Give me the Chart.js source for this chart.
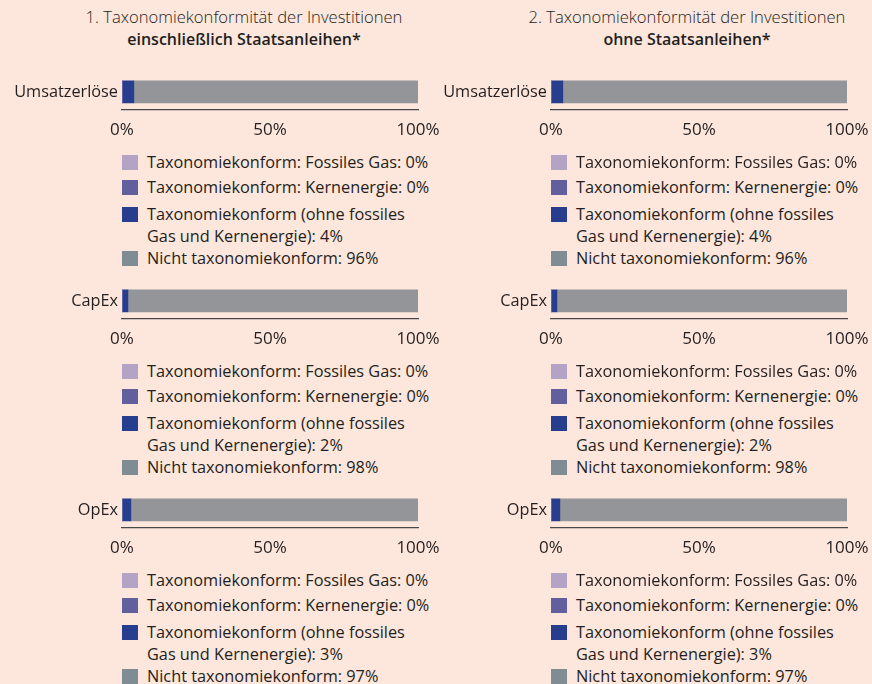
<!DOCTYPE html>
<html lang="de">
<head>
  <meta charset="UTF-8">
  <title>Taxonomiekonformität der Investitionen</title>
  <style>
    body {
      margin: 0;
      background: #fde6dc;
      font-family: 'Open Sans', Arial, sans-serif;
      color: #231f20;
    }
    #wrap {
      position: relative;
      width: 872px;
      height: 684px;
      overflow: hidden;
    }
    .title {
      position: absolute;
      top: 6px;
      width: 420px;
      text-align: center;
      font-size: 16.6px;
      line-height: 22px;
      font-weight: 300;
      white-space: nowrap;
    }
    .title b { font-weight: 600; font-size: 16px; }
    .panel {
      position: absolute;
      width: 442px;
      height: 80px;
    }
    .legend {
      position: absolute;
      width: 320px;
      font-size: 16.3px;
      line-height: 22px;
    }
    .legend .item {
      position: absolute;
      left: 0;
      display: flex;
      align-items: flex-start;
      white-space: nowrap;
    }
    .legend .sw {
      width: 16px;
      height: 15px;
      margin-top: 4px;
      margin-right: 9px;
      flex: none;
    }
  </style>
</head>
<body>
<div id="wrap">
  <div class="title" style="left:34px">1. Taxonomiekonformität der Investitionen<br><b>einschließlich Staatsanleihen*</b></div>
  <div class="title" style="left:477px">2. Taxonomiekonformität der Investitionen<br><b>ohne Staatsanleihen*</b></div>
</div>

<script src="https://cdn.jsdelivr.net/npm/chart.js@4.4.3/dist/chart.umd.min.js"></script>
<script>
  // data
  const kpis = ['Umsatzerlöse', 'CapEx', 'OpEx'];
  const seriesNames = [
    'Taxonomiekonform: Fossiles Gas',
    'Taxonomiekonform: Kernenergie',
    'Taxonomiekonform (ohne fossiles Gas und Kernenergie)',
    'Nicht taxonomiekonform'
  ];
  // per KPI: [fossil gas, nuclear, aligned other, not aligned]
  const withSovereign = [
    [0, 0, 4, 96],
    [0, 0, 2, 98],
    [0, 0, 3, 97]
  ];
  const withoutSovereign = [
    [0, 0, 4, 96],
    [0, 0, 2, 98],
    [0, 0, 3, 97]
  ];
  const xTicks = [0, 50, 100];

  const barColors = ['#b3a3c4', '#625f9f', '#273d8d', '#949599'];
  const swatchColors = ['#b3a3c4', '#625f9f', '#273d8d', '#7f8c93'];
  const itemTops = [0, 25, 52, 96];

  const wrap = document.getElementById('wrap');

  function legendText(i, v) {
    if (i === 2) return 'Taxonomiekonform (ohne fossiles<br>Gas und Kernenergie): ' + v + '%';
    return seriesNames[i] + ': ' + v + '%';
  }

  function makePanel(colLeft, axisLeft, rowTop, label, values) {
    const div = document.createElement('div');
    div.className = 'panel';
    div.style.left = colLeft + 'px';
    div.style.top = (60 + rowTop) + 'px';
    const cv = document.createElement('canvas');
    div.appendChild(cv);
    wrap.appendChild(div);

    new Chart(cv, {
      type: 'bar',
      data: {
        labels: [label],
        datasets: values.map((v, i) => ({
          label: seriesNames[i],
          data: [v],
          backgroundColor: barColors[i],
          borderWidth: 0,
          barThickness: 22
        }))
      },
      options: {
        indexAxis: 'y',
        responsive: true,
        maintainAspectRatio: false,
        animation: false,
        layout: { padding: { top: 12, right: 442 - (axisLeft - colLeft) - 296, bottom: 0, left: 0 } },
        scales: {
          x: {
            stacked: true,
            min: 0,
            max: 100,
            afterBuildTicks: s => { s.ticks = xTicks.map(v => ({ value: v })); },
            afterFit: s => { s.height = 30; s.paddingLeft = 0; s.paddingRight = 0; },
            grid: { display: false, drawTicks: false },
            border: { display: true, color: '#48484a', width: 1.3 },
            ticks: {
              padding: 10,
              color: '#231f20',
              font: { family: 'Open Sans', size: 17 },
              callback: v => v + '%'
            }
          },
          y: {
            stacked: true,
            afterFit: s => { s.width = axisLeft - colLeft; },
            grid: { display: false, drawTicks: false },
            border: { display: false },
            ticks: {
              padding: 4,
              color: '#231f20',
              font: { family: 'Open Sans', size: 16.3 }
            }
          }
        },
        plugins: {
          legend: { display: false },
          tooltip: { enabled: false }
        }
      }
    });

    const lg = document.createElement('div');
    lg.className = 'legend';
    lg.style.left = axisLeft + 'px';
    lg.style.top = (151 + rowTop) + 'px';
    values.forEach((v, i) => {
      const it = document.createElement('div');
      it.className = 'item';
      it.style.top = itemTops[i] + 'px';
      it.innerHTML = '<span class="sw" style="background:' + swatchColors[i] + '"></span><span>' + legendText(i, v) + '</span>';
      lg.appendChild(it);
    });
    wrap.appendChild(lg);
  }

  kpis.forEach((k, r) => {
    makePanel(0, 122, r * 209, k, withSovereign[r]);
    makePanel(430, 551, r * 209, k, withoutSovereign[r]);
  });
</script>
</body>
</html>
